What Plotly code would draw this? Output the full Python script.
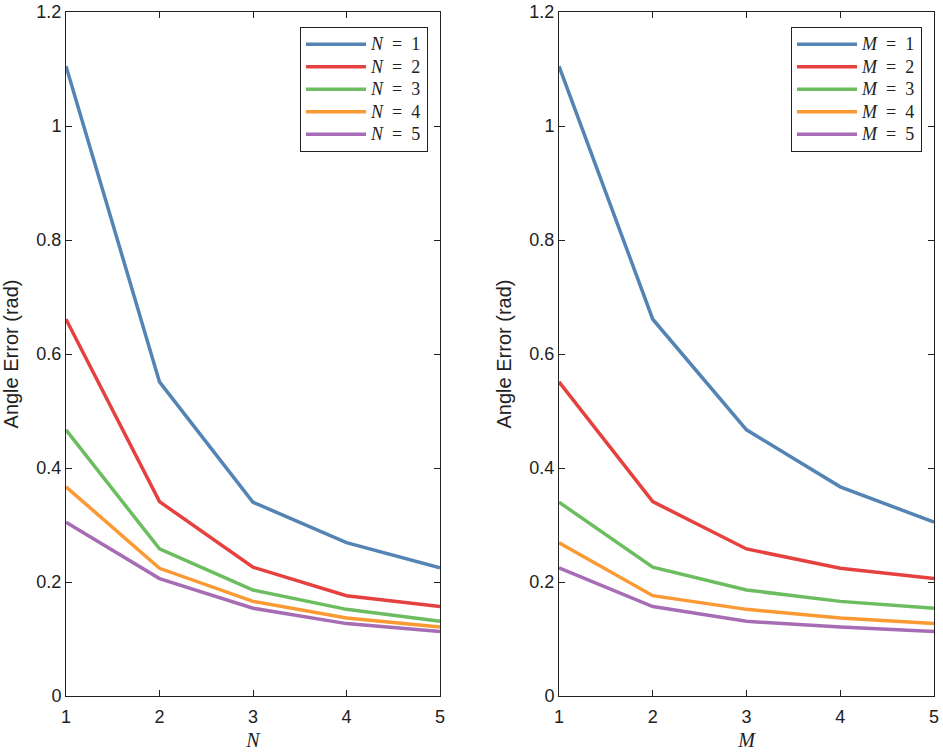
import plotly.graph_objects as go

x_vals = [1, 2, 3, 4, 5]
labels = ["1", "2", "3", "4", "5"]

# Left panel: series N=1..5 vs N axis
left_n1 = [1.105, 0.551, 0.340, 0.269, 0.225]
left_n2 = [0.661, 0.341, 0.226, 0.176, 0.157]
left_n3 = [0.467, 0.258, 0.186, 0.152, 0.131]
left_n4 = [0.367, 0.224, 0.166, 0.137, 0.121]
left_n5 = [0.305, 0.206, 0.154, 0.127, 0.113]

# Right panel: series M=1..5 vs M axis
right_m1 = [1.105, 0.661, 0.467, 0.367, 0.305]
right_m2 = [0.551, 0.341, 0.258, 0.224, 0.206]
right_m3 = [0.340, 0.226, 0.186, 0.166, 0.154]
right_m4 = [0.269, 0.176, 0.152, 0.137, 0.127]
right_m5 = [0.225, 0.157, 0.131, 0.121, 0.113]

colors = ["#5384b3", "#e5413f", "#6cbd60", "#fb9933", "#a66db5"]

W, H = 943, 755
ml, mr, mt, mb = 66, 9, 12, 59
pw = W - ml - mr
ph = H - mt - mb
def px_x(p):
    return (p - ml) / pw
def px_y(p):
    return (H - mb - p) / ph

SP = "\u2002"
def leg_name(sym, lab):
    return f'<span style="font-size:18px"><i>{sym}</i>{SP}={SP}{lab}</span>'

fig = go.Figure()
left_series = [left_n1, left_n2, left_n3, left_n4, left_n5]
right_series = [right_m1, right_m2, right_m3, right_m4, right_m5]
for i, ys in enumerate(left_series):
    fig.add_trace(go.Scatter(x=x_vals, y=ys, mode="lines", xaxis="x", yaxis="y",
                             line=dict(color=colors[i], width=3.5),
                             name=leg_name("N", labels[i]), legend="legend"))
for i, ys in enumerate(right_series):
    fig.add_trace(go.Scatter(x=x_vals, y=ys, mode="lines", xaxis="x2", yaxis="y2",
                             line=dict(color=colors[i], width=3.5),
                             name=leg_name("M", labels[i]), legend="legend2"))

tickfont = dict(family="Liberation Sans, Arial, sans-serif", size=18, color="#222222")
axcommon = dict(showline=True, linecolor="#222222", linewidth=1, mirror="ticks",
                ticks="inside", ticklen=6, tickcolor="#222222", showgrid=False,
                zeroline=False, tickfont=tickfont, ticklabeloverflow="allow",
                automargin=False)

left_dom = [0, px_x(440)]
right_dom = [px_x(559), 1]
ytv = [0, 0.2, 0.4, 0.6, 0.8, 1, 1.2]
ytt = ["0", "0.2", "0.4", "0.6", "0.8", "1", "1.2"]
xtitle_font = dict(family="Liberation Serif, serif", size=20, color="#222222")
ytitle_font = dict(family="Liberation Sans, Arial, sans-serif", size=20, color="#222222")
legfont = dict(family="Liberation Serif, serif", size=15, color="#222222")

fig.update_layout(
    width=W, height=H,
    margin=dict(l=ml, r=mr, t=mt, b=mb),
    plot_bgcolor="white", paper_bgcolor="white",
    xaxis=dict(domain=left_dom, range=[1, 5], tickvals=x_vals, ticktext=labels, anchor="y",
               ticklabelstandoff=4,
               title=dict(text="<i>N</i>", font=xtitle_font, standoff=7), **axcommon),
    yaxis=dict(domain=[0, 1], range=[0, 1.2], tickvals=ytv, ticktext=ytt, anchor="x",
               title=dict(text="Angle Error (rad)", font=ytitle_font, standoff=22), **axcommon),
    xaxis2=dict(domain=right_dom, range=[1, 5], tickvals=x_vals, ticktext=labels, anchor="y2",
                ticklabelstandoff=4,
                title=dict(text="<i>M</i>", font=xtitle_font, standoff=7), **axcommon),
    yaxis2=dict(domain=[0, 1], range=[0, 1.2], tickvals=ytv, ticktext=ytt, anchor="x2",
                title=dict(text="Angle Error (rad)", font=ytitle_font, standoff=12), **axcommon),
    legend=dict(x=px_x(428), y=px_y(27), xanchor="right", yanchor="top",
                bordercolor="#222222", borderwidth=1, bgcolor="white",
                font=legfont, tracegroupgap=0, itemwidth=60),
    legend2=dict(x=px_x(922), y=px_y(27), xanchor="right", yanchor="top",
                 bordercolor="#222222", borderwidth=1, bgcolor="white",
                 font=legfont, tracegroupgap=0, itemwidth=60),
)

fig.write_html("out.html", config={"displayModeBar": False},
               post_script="document.body.style.margin='0';")
